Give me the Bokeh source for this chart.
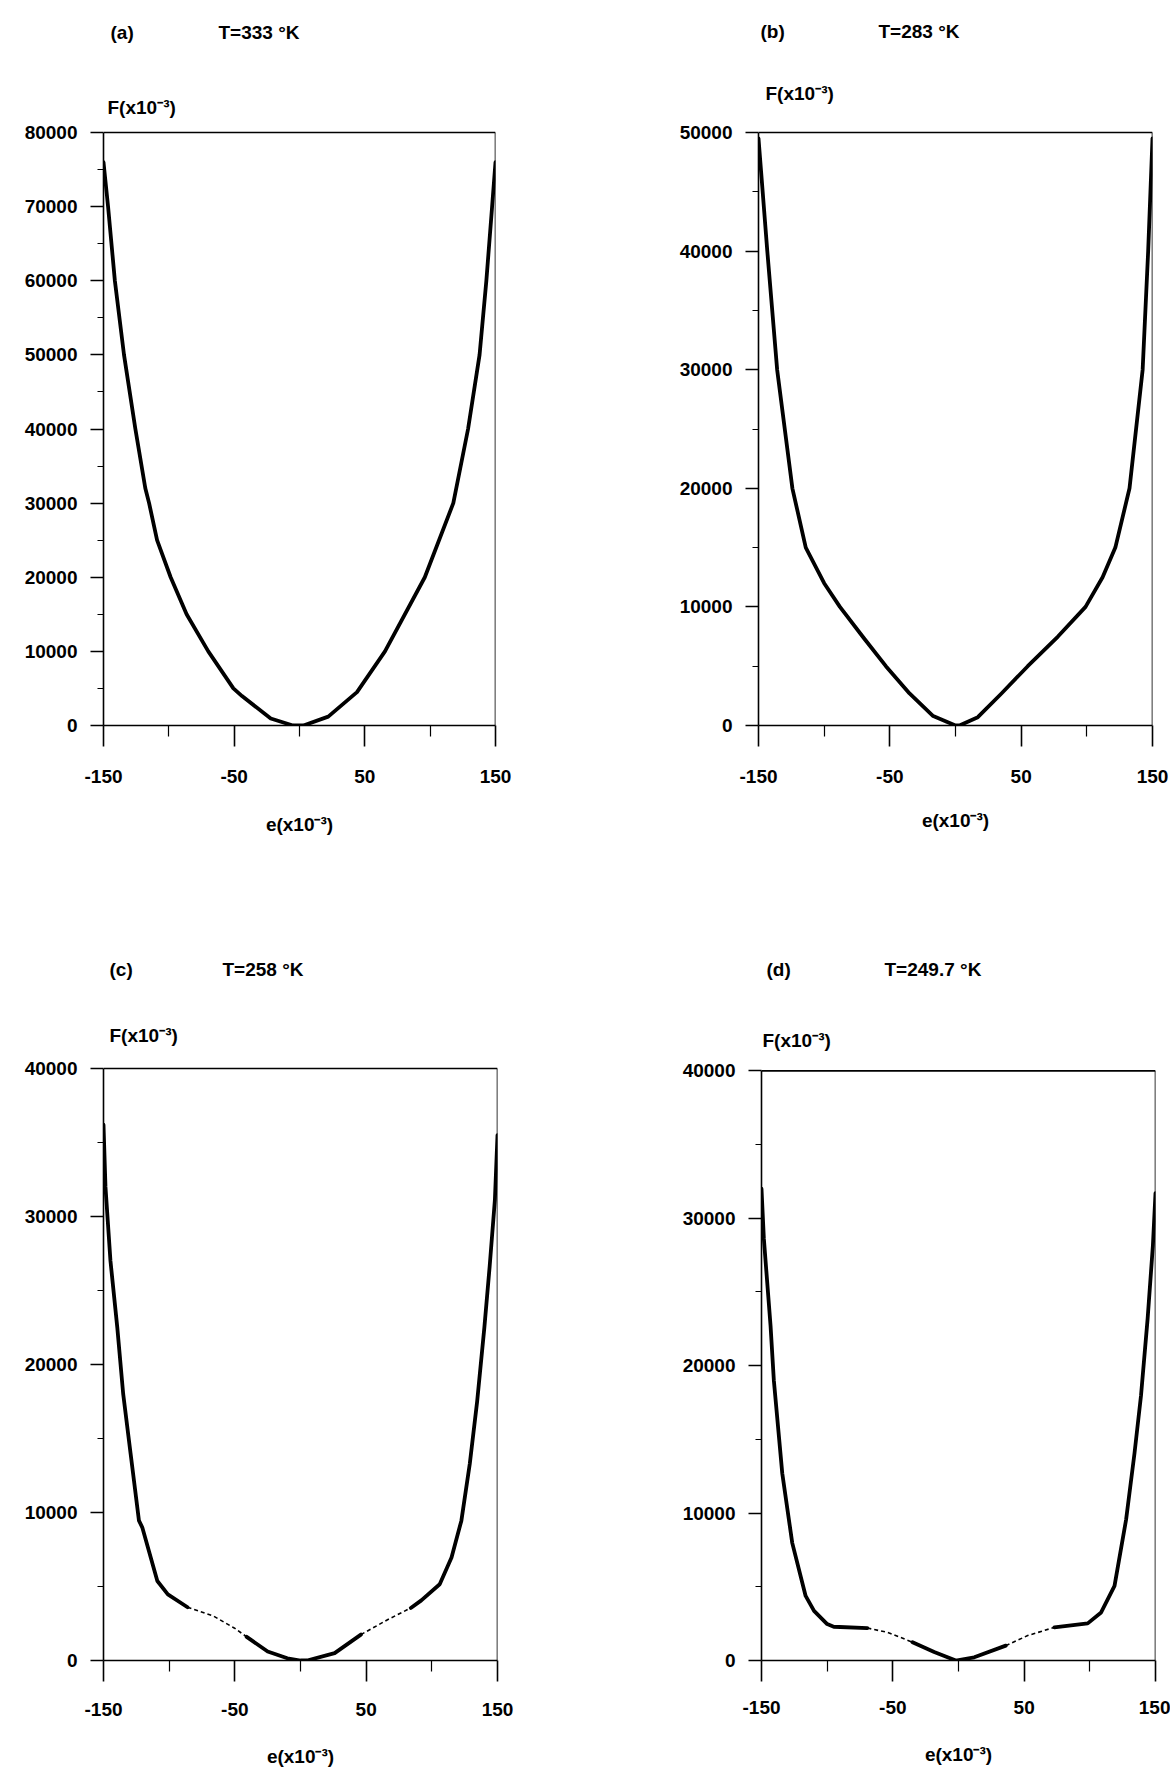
from bokeh.plotting import figure
from bokeh.layouts import column, row
from bokeh.models import FixedTicker, Label, Range1d
from bokeh.embed import file_html
from bokeh.resources import INLINE

# Free energy F (x10^-3) against strain e (x10^-3) at four temperatures.

# (a) T = 333 K
e_a = [-150, -146.5, -141.3, -134.3, -125.6, -118, -115.1, -109, -98.6, -86.4, -69.8, -50.6,
       -44, -22, -5, 3, 22, 44, 65.4, 95.9, 117.7, 129, 137.8, 143, 147.4, 150]
F_a = [76000, 70000, 60000, 50000, 40000, 32000, 30000, 25000, 20000, 15000, 10000, 5000,
       3970, 950, 0, 0, 1200, 4500, 10000, 20000, 30000, 40000, 50000, 60000, 70000, 76000]

# (b) T = 283 K
e_b = [-150, -143.3, -135.8, -124.2, -114, -100, -88, -70, -53, -35, -17, 0,
       3, 17, 35, 55, 78, 99, 112, 121.7, 132.5, 142.5, 146.7, 150]
F_b = [49500, 40000, 30000, 20000, 15000, 12000, 10000, 7400, 5000, 2700, 800, 0,
       0, 700, 2700, 5000, 7500, 10000, 12500, 15000, 20000, 30000, 40000, 49500]

# (c) T = 258 K
e_c = [-150, -148.5, -144.7, -139.5, -135, -129.4, -123, -120.5, -109, -101, -86, -66,
       -50.5, -41, -25, -10, 0, 5, 26, 46, 66.6, 84, 92, 106, 115, 122.5, 128.9,
       134.5, 140, 144, 148, 150]
F_c = [36200, 32000, 27000, 22500, 18000, 14000, 9450, 9000, 5370, 4470, 3600, 2990,
       2200, 1600, 610, 150, 0, 0, 500, 1750, 2770, 3550, 4060, 5150, 6960, 9450, 13300,
       17500, 22500, 26600, 31100, 35500]
dashed_c = [(-86, -41), (46, 84)]

# (d) T = 249.7 K
e_d = [-150, -148.2, -143.1, -140.6, -134.2, -126.6, -116.4, -110, -100, -95, -69.4, -54,
       -35, -18.5, -2, 12, 36, 52.7, 73, 98.4, 108.6, 118.8, 127.6, 134, 139, 144, 148, 150]
F_d = [32000, 28600, 22700, 19000, 12700, 7980, 4380, 3370, 2470, 2290, 2200, 1910,
       1240, 570, 0, 220, 1010, 1690, 2250, 2520, 3260, 5060, 9550, 14050, 18000, 23180,
       28130, 31700]
dashed_d = [(-69.4, -35), (36, 73)]

x_major = [-150, -50, 50, 150]
x_minor = [-100, 0, 100]
x_labels = {-150: "-150", -50: "-50", 50: "50", 150: "150"}

FONT = "Liberation Sans"
FSIZE = "19px"


def split_segments(e, F, dashed):
    """Split a curve into solid and dashed polylines."""
    solid, dash = [], []
    cur, cur_dash = None, None
    for i in range(len(e) - 1):
        is_d = any(lo <= e[i] and e[i + 1] <= hi for lo, hi in dashed)
        if cur is None:
            cur, cur_dash = [[e[i]], [F[i]]], is_d
        elif is_d != cur_dash:
            (dash if cur_dash else solid).append(cur)
            cur, cur_dash = [[e[i]], [F[i]]], is_d
        cur[0].append(e[i + 1])
        cur[1].append(F[i + 1])
    (dash if cur_dash else solid).append(cur)
    return solid, dash


def panel(e, F, dashed, tag, temp, ymax, geom, tag_pos, temp_pos, flab_pos,
          label_standoff, title_standoff):
    # geom: figure width/height, left/right borders, box top and bottom border (px)
    w, h, bl, br, bt, bb = geom
    fw, fh = w - bl - br, h - bt - bb
    # the frame reaches up to the top of the figure so the headings sit inside it
    ytop = ymax * (fh + bt) / fh
    p = figure(width=w, height=h, x_range=Range1d(-150, 150), y_range=Range1d(0, ytop),
               output_backend="svg", toolbar_location=None,
               min_border_left=bl, min_border_right=br,
               min_border_top=0, min_border_bottom=bb,
               background_fill_color="white", border_fill_color="white")
    p.grid.visible = False
    p.outline_line_color = None

    xa = p.xaxis[0]
    xa.ticker = FixedTicker(ticks=x_major, minor_ticks=x_minor)
    xa.major_label_overrides = x_labels
    xa.major_tick_out, xa.major_tick_in = 21, 0
    xa.minor_tick_out, xa.minor_tick_in = 11, 0
    xa.major_label_standoff = label_standoff
    xa.axis_label = "e(x10⁻³)"
    xa.axis_label_standoff = title_standoff

    ya = p.yaxis[0]
    ya.bounds = (0, ymax)
    ya.ticker = FixedTicker(ticks=list(range(0, ymax + 1, 10000)),
                            minor_ticks=list(range(5000, ymax, 10000)))
    ya.major_tick_out, ya.major_tick_in = 13, 0
    ya.minor_tick_out, ya.minor_tick_in = 6, 0
    ya.major_label_standoff = 13

    for ax in (xa, ya):
        ax.axis_line_width = 1.6
        ax.major_tick_line_width = 1.6
        ax.minor_tick_line_width = 1.2
        ax.axis_line_color = "black"
        ax.major_label_text_font = FONT
        ax.major_label_text_font_style = "bold"
        ax.major_label_text_font_size = FSIZE
        ax.major_label_text_color = "black"
        ax.axis_label_text_font = FONT
        ax.axis_label_text_font_style = "bold"
        ax.axis_label_text_font_size = FSIZE
        ax.axis_label_text_color = "black"

    # top and right sides of the box
    p.segment(x0=[-150, 150], y0=[ymax, 0], x1=[150, 150], y1=[ymax, ymax],
              line_color="black", line_width=1.6)

    solid, dash = split_segments(e, F, dashed)
    if solid:
        p.multi_line(xs=[s[0] for s in solid], ys=[s[1] for s in solid],
                     line_color="black", line_width=3.8, line_join="round", line_cap="round")
    if dash:
        p.multi_line(xs=[s[0] for s in dash], ys=[s[1] for s in dash],
                     line_color="black", line_width=1.6, line_dash="4 3")

    def to_data(px, py):
        return -150 + (px - bl) / fw * 300, ymax + (bt - py) / fh * ymax

    for text, pos in ((tag, tag_pos), (temp, temp_pos), ("F(x10⁻³)", flab_pos)):
        x, y = to_data(*pos)
        p.add_layout(Label(x=x, y=y, text=text, text_font=FONT, text_font_style="bold",
                           text_font_size=FSIZE, text_color="black",
                           text_align="left", text_baseline="middle"))
    return p


pa = panel(e_a, F_a, [], "(a)", "T=333 °K", 80000, (600, 900, 103, 105, 132, 175),
           (110, 32), (218, 32), (107, 107), 23, 28)
pb = panel(e_b, F_b, [], "(b)", "T=283 °K", 50000, (570, 900, 158, 18, 132, 175),
           (160, 31), (278, 31), (165, 93), 23, 24)
pc = panel(e_c, F_c, dashed_c, "(c)", "T=258 °K", 40000, (600, 872, 103, 103, 168, 112),
           (109, 69), (222, 69), (109, 135), 21, 27)
pd = panel(e_d, F_d, dashed_d, "(d)", "T=249.7 °K", 40000, (570, 872, 161, 15, 171, 109),
           (166, 69), (284, 69), (162, 141), 19, 27)

layout = column(row(pa, pb, spacing=0), row(pc, pd, spacing=0), spacing=0)

with open("out.html", "w") as f:
    f.write(file_html(layout, INLINE))
